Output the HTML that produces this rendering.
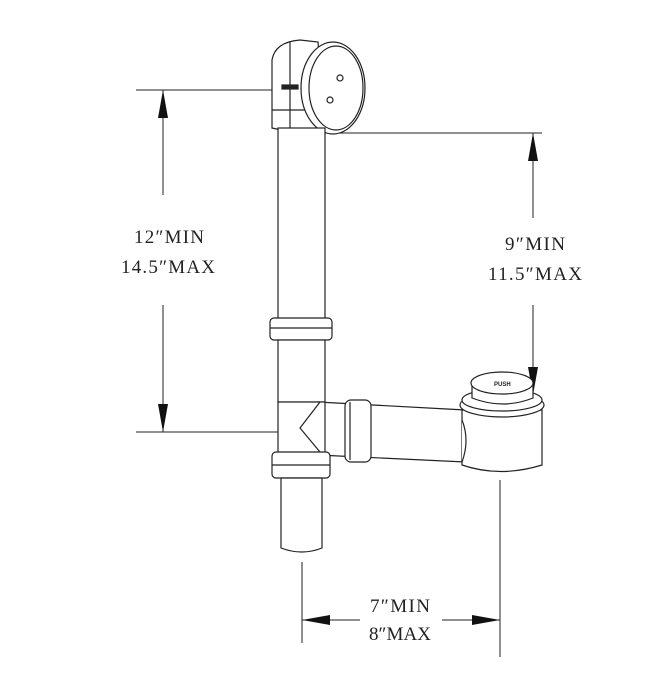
<!DOCTYPE html>
<html><head><meta charset="utf-8"><style>
html,body{margin:0;padding:0;background:#fff;}
svg{display:block;}
text{font-family:"Liberation Serif","Noto Serif CJK SC",serif;font-size:19px;fill:#222;}
</style></head><body>
<svg width="669" height="676" viewBox="0 0 669 676" xmlns="http://www.w3.org/2000/svg">
<g stroke="#222" stroke-width="1" fill="none">
<!-- left dimension -->
<line x1="136" y1="90" x2="272" y2="90"/>
<line x1="136" y1="432" x2="285" y2="432"/>
<line x1="163" y1="90" x2="163" y2="195"/>
<line x1="163" y1="305" x2="163" y2="432"/>
<!-- right dimension -->
<line x1="325" y1="133" x2="542" y2="133"/>
<line x1="533" y1="133" x2="533" y2="218"/>
<line x1="533" y1="305" x2="533" y2="395"/>
<!-- bottom dimension -->
<line x1="302" y1="562" x2="302" y2="643"/>
<line x1="500" y1="480" x2="500" y2="657"/>
<line x1="302" y1="620" x2="360" y2="620"/>
<line x1="442" y1="620" x2="500" y2="620"/>
</g>
<g fill="#111">
<polygon points="163,90 158,118 168,118"/>
<polygon points="163,432 158,404 168,404"/>
<polygon points="533,133 528,161 538,161"/>
<polygon points="533,395 528,367 538,367"/>
<polygon points="302,620 330,615 330,625"/>
<polygon points="500,620 472,615 472,625"/>
</g>
<g stroke="#222" stroke-width="1.2" fill="#fff">
<!-- overflow elbow -->
<path d="M272,60 Q275,42 300,40 L318,42 L325,125 Q300,135 272,128 Z"/>
<line x1="272" y1="110" x2="325" y2="110"/>
<line x1="290" y1="42" x2="290" y2="128"/>
<rect x="282" y="85" width="16" height="4" fill="#222"/>
<ellipse cx="333" cy="88" rx="32" ry="46"/>
<ellipse cx="336" cy="88" rx="27" ry="42"/>
<circle cx="340" cy="78" r="3"/>
<circle cx="330" cy="100" r="3"/>
<!-- vertical pipe -->
<rect x="278" y="128" width="47" height="192"/>
<rect x="270" y="318" width="62" height="22" rx="4"/>
<line x1="270" y1="328" x2="332" y2="328"/>
<rect x="278" y="340" width="47" height="62"/>
<!-- horizontal pipe -->
<path d="M318,402 L465,410 L465,462 L318,455 Z"/>
<rect x="345" y="400" width="26" height="62" rx="6"/>
<line x1="350" y1="402" x2="350" y2="460"/>
<!-- tee -->
<rect x="278" y="402" width="47" height="52"/>
<path d="M320,402 L300,428 L320,452" />
<rect x="272" y="452" width="58" height="26" rx="4"/>
<line x1="272" y1="465" x2="330" y2="465"/>
<!-- lower pipe -->
<path d="M281,478 L322,478 L322,548 Q302,556 281,548 Z"/>
<!-- drain -->
<path d="M462,410 L462,465 Q500,478 542,465 L542,410 Z"/>
<path d="M462,420 Q470,440 462,462"/>
<ellipse cx="502" cy="405" rx="42" ry="12"/>
<ellipse cx="502" cy="400" rx="40" ry="11"/>
<path d="M472,385 L472,398 Q503,410 533,398 L533,385"/>
<ellipse cx="502" cy="383" rx="31" ry="11"/>
</g>
<text x="494" y="386" style="font-size:6px;font-family:'Liberation Sans',sans-serif;font-weight:bold">PUSH</text>
<text x="134" y="243" textLength="70">12″MIN</text>
<text x="121" y="273" textLength="94">14.5″MAX</text>
<text x="505" y="250" textLength="60">9″MIN</text>
<text x="488" y="280" textLength="94">11.5″MAX</text>
<text x="370" y="612" textLength="60">7″MIN</text>
<text x="369" y="640" textLength="62">8″MAX</text>
</svg>
</body></html>
